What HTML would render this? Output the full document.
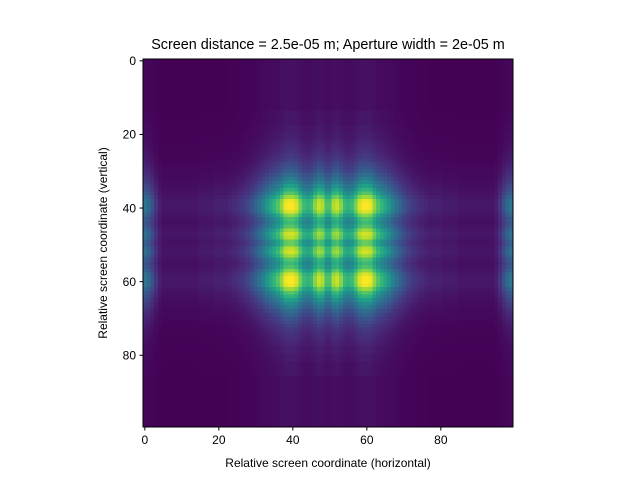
<!DOCTYPE html>
<html><head><meta charset="utf-8"><style>
body{margin:0;background:#fff;}
svg{display:block;font-family:"Liberation Sans",sans-serif;}
</style></head><body>
<svg id="chart" width="640" height="480" viewBox="0 0 640 480">
<rect width="640" height="480" fill="#fff"/>
<text x="328" y="49" font-size="14.4" text-anchor="middle">Screen distance = 2.5e-05 m; Aperture width = 2e-05 m</text>
<g id="cells" shape-rendering="crispEdges"></g>
<rect x="143" y="59" width="370" height="368" fill="none" stroke="#000" stroke-width="1"/>
<g id="xt" font-size="12"></g>
<g id="yt" font-size="12"></g>
<text x="328" y="467" font-size="12" text-anchor="middle">Relative screen coordinate (horizontal)</text>
<text transform="translate(107,243) rotate(-90)" font-size="12" text-anchor="middle">Relative screen coordinate (vertical)</text>
</svg>
<script>
const colProfile=[0.32,0.26,0.18,0.10,0.05,0.03,0.03,0.03,0.03,0.03,0.03,0.03,0.03,0.03,0.03,0.04,0.04,0.04,0.04,0.05,0.05,0.05,0.05,0.06,0.07,0.08,0.10,0.12,0.15,0.19,0.24,0.30,0.37,0.45,0.53,0.60,0.68,0.80,0.97,1.00,1.00,0.93,0.75,0.62,0.58,0.62,0.78,0.90,0.85,0.66,0.66,0.85,0.90,0.78,0.62,0.58,0.62,0.75,0.93,1.00,1.00,0.97,0.80,0.68,0.60,0.53,0.45,0.37,0.30,0.24,0.19,0.15,0.12,0.10,0.08,0.07,0.06,0.05,0.05,0.05,0.05,0.04,0.04,0.04,0.04,0.03,0.03,0.03,0.03,0.03,0.03,0.03,0.03,0.03,0.03,0.05,0.10,0.18,0.26,0.32];
const rowProfile=[0.02,0.02,0.02,0.02,0.02,0.02,0.02,0.02,0.02,0.02,0.02,0.02,0.02,0.02,0.03,0.03,0.03,0.03,0.04,0.04,0.05,0.05,0.06,0.07,0.08,0.09,0.11,0.13,0.16,0.19,0.23,0.28,0.34,0.41,0.49,0.58,0.68,0.82,0.97,1.00,1.00,0.94,0.78,0.66,0.62,0.68,0.83,0.92,0.88,0.72,0.72,0.88,0.92,0.83,0.68,0.62,0.66,0.78,0.94,1.00,1.00,0.97,0.82,0.68,0.58,0.49,0.41,0.34,0.28,0.23,0.19,0.16,0.13,0.11,0.09,0.08,0.07,0.06,0.05,0.05,0.04,0.04,0.03,0.03,0.03,0.03,0.02,0.02,0.02,0.02,0.02,0.02,0.02,0.02,0.02,0.02,0.02,0.02,0.02,0.02];
const xTicks=[0,20,40,60,80];
const yTicks=[0,20,40,60,80];
const X0=143,Y0=59,CW=3.7,CH=3.68;
const vir=[[68,1,84],[72,40,120],[62,74,137],[49,104,142],[38,130,142],[31,158,137],[53,183,121],[110,206,88],[181,222,43],[253,231,37]];
function cmap(v){v=Math.max(0,Math.min(1,v));const t=v*(vir.length-1);const i=Math.min(Math.floor(t),vir.length-2);const f=t-i;
const c=vir[i].map((a,k)=>Math.round(a+(vir[i+1][k]-a)*f));return `rgb(${c[0]},${c[1]},${c[2]})`;}
const xs=c=>X0+c*CW, ys=r=>Y0+r*CH;
const NS="http://www.w3.org/2000/svg";
const g=document.getElementById('cells');
for(let r=0;r<rowProfile.length;r++){for(let c=0;c<colProfile.length;c++){
const el=document.createElementNS(NS,'rect');
el.setAttribute('x',xs(c).toFixed(2));el.setAttribute('y',ys(r).toFixed(2));
el.setAttribute('width',(CW+0.3).toFixed(2));el.setAttribute('height',(CH+0.3).toFixed(2));
el.setAttribute('fill',cmap(Math.pow(rowProfile[r]*colProfile[c],0.8)));


g.appendChild(el);}}
const xt=document.getElementById('xt');
xTicks.forEach(v=>{const x=xs(v+0.5);
const l=document.createElementNS(NS,'line');l.setAttribute('x1',x);l.setAttribute('x2',x);l.setAttribute('y1',427);l.setAttribute('y2',430.5);l.setAttribute('stroke','#000');


xt.appendChild(l);
const t=document.createElementNS(NS,'text');t.setAttribute('x',x);t.setAttribute('y',444);t.setAttribute('text-anchor','middle');t.textContent=v;


xt.appendChild(t);});
const yt=document.getElementById('yt');
yTicks.forEach(v=>{const y=ys(v+0.5);
const l=document.createElementNS(NS,'line');l.setAttribute('x1',139.5);l.setAttribute('x2',143);l.setAttribute('y1',y);l.setAttribute('y2',y);l.setAttribute('stroke','#000');


yt.appendChild(l);
const t=document.createElementNS(NS,'text');t.setAttribute('x',136);t.setAttribute('y',y+4.3);t.setAttribute('text-anchor','end');t.textContent=v;


yt.appendChild(t);});
</script>
</body></html>
